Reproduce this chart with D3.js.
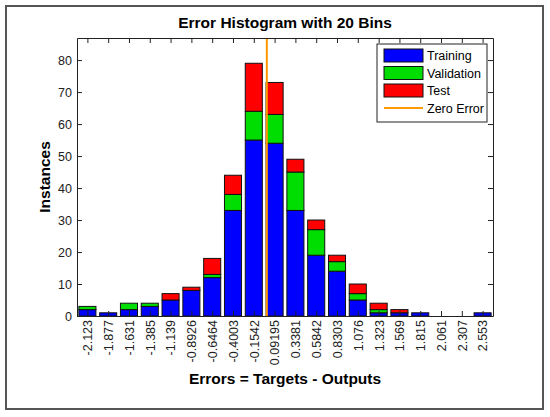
<!DOCTYPE html>
<html>
<head>
<meta charset="utf-8">
<script src="https://cdn.jsdelivr.net/npm/d3@7"></script>
<style>
body { margin: 0; background: #fff; }
text { font-family: "Liberation Sans", Arial, sans-serif; }
</style>
</head>
<body>
<div id="chart-area"></div>
<script>
// bin centres as printed under the axis
var binLabels = ["-2.123","-1.877","-1.631","-1.385","-1.139","-0.8926","-0.6464","-0.4003","-0.1542","0.09195",
                 "0.3381","0.5842","0.8303","1.076","1.323","1.569","1.815","2.061","2.307","2.553"];
var training   = [2,1,2,3,5,8,12,33,55,54,33,19,14,5,1,1,1,0,0,1];
var validation = [1,0,2,1,0,0,1,5,9,9,12,8,3,2,1,0,0,0,0,0];
var test       = [0,0,0,0,2,1,5,6,15,10,4,3,2,3,2,1,0,0,0,0];
var seriesNames = ["Training","Validation","Test"];
var seriesColors = ["#0000ff","#00dd00","#ff0000"];
var yTicks = [0,10,20,30,40,50,60,70,80];

var width = 550, height = 417;
var plotL = 77, plotR = 493, plotT = 38, plotB = 316;

var svg = d3.select("#chart-area").append("svg")
    .attr("width", width)
    .attr("height", height);

// figure frame
svg.append("rect")
    .attr("x", 6).attr("y", 6)
    .attr("width", 537).attr("height", 403)
    .attr("fill", "#fff")
    .attr("stroke", "#555")
    .attr("stroke-width", 2);

var centers = binLabels.map(function(d) { return +d; });
var step = (centers[centers.length - 1] - centers[0]) / (centers.length - 1);

var x = d3.scaleLinear()
    .domain([centers[0] - step / 2, centers[centers.length - 1] + step / 2])
    .range([plotL, plotR]);

var y = d3.scaleLinear()
    .domain([0, 86.9])
    .range([plotB, plotT]);

var data = binLabels.map(function(d, i) {
    return { c: centers[i], Training: training[i], Validation: validation[i], Test: test[i] };
});
var stacked = d3.stack().keys(seriesNames)(data);

var barW = (x(step) - x(0)) * 0.82;

var layers = svg.selectAll("g.layer")
    .data(stacked)
    .enter().append("g")
    .attr("class", "layer")
    .attr("fill", function(d, i) { return seriesColors[i]; });

layers.selectAll("rect")
    .data(function(d) { return d; })
    .enter().append("rect")
    .attr("x", function(d) { return x(d.data.c) - barW / 2; })
    .attr("y", function(d) { return y(d[1]); })
    .attr("width", barW)
    .attr("height", function(d) { return y(d[0]) - y(d[1]); })
    .attr("stroke", "#111")
    .attr("stroke-width", 1)
    .attr("display", function(d) { return d[1] > d[0] ? null : "none"; });

// zero error line
svg.append("line")
    .attr("x1", x(0)).attr("x2", x(0))
    .attr("y1", plotT).attr("y2", plotB)
    .attr("stroke", "#ff9900")
    .attr("stroke-width", 2);

// axes, ticks pointing inward like matlab
var xBottom = d3.axisBottom(x).tickValues(centers).tickSizeInner(-5).tickSizeOuter(0)
    .tickFormat(function(d, i) { return binLabels[i]; });
var xTop = d3.axisTop(x).tickValues(centers).tickSizeInner(-5).tickSizeOuter(0).tickFormat("");
var yLeft = d3.axisLeft(y).tickValues(yTicks).tickSizeInner(-5).tickSizeOuter(0);
var yRight = d3.axisRight(y).tickValues(yTicks).tickSizeInner(-5).tickSizeOuter(0).tickFormat("");

var gx = svg.append("g").attr("transform", "translate(0," + plotB + ")").call(xBottom);
gx.selectAll("text")
    .attr("transform", "rotate(-90)")
    .attr("x", -4).attr("y", 0).attr("dy", "0.35em")
    .style("text-anchor", "end");
svg.append("g").attr("transform", "translate(0," + plotT + ")").call(xTop);
var gy = svg.append("g").attr("transform", "translate(" + plotL + ",0)").call(yLeft);
gy.selectAll("text").attr("x", -5);
svg.append("g").attr("transform", "translate(" + plotR + ",0)").call(yRight);

svg.selectAll(".domain").attr("stroke", "#222");
svg.selectAll(".tick line").attr("stroke", "#222");
svg.selectAll(".tick text").attr("font-size", 12.5).attr("fill", "#222")
    .style("font-family", "'Liberation Sans', Arial, sans-serif");

// titles
svg.append("text")
    .attr("x", (plotL + plotR) / 2).attr("y", 28)
    .attr("text-anchor", "middle")
    .attr("font-size", 15.5).attr("font-weight", "bold")
    .text("Error Histogram with 20 Bins");

svg.append("text")
    .attr("x", (plotL + plotR) / 2).attr("y", 384)
    .attr("text-anchor", "middle")
    .attr("font-size", 15.5).attr("font-weight", "bold")
    .text("Errors = Targets - Outputs");

svg.append("text")
    .attr("transform", "translate(50," + ((plotT + plotB) / 2) + ") rotate(-90)")
    .attr("text-anchor", "middle")
    .attr("font-size", 15.5).attr("font-weight", "bold")
    .text("Instances");

// legend
var legend = svg.append("g").attr("transform", "translate(377,44)");
legend.append("rect")
    .attr("width", 110).attr("height", 78)
    .attr("fill", "#fff").attr("stroke", "#222");

seriesNames.forEach(function(name, i) {
    legend.append("rect")
        .attr("x", 7).attr("y", 5 + i * 17.5)
        .attr("width", 39).attr("height", 13)
        .attr("fill", seriesColors[i]).attr("stroke", "#111");
    legend.append("text")
        .attr("x", 50).attr("y", 16 + i * 17.5)
        .attr("font-size", 12.5)
        .text(name);
});
legend.append("line")
    .attr("x1", 7).attr("x2", 46)
    .attr("y1", 64).attr("y2", 64)
    .attr("stroke", "#ff9900").attr("stroke-width", 2);
legend.append("text")
    .attr("x", 50).attr("y", 69)
    .attr("font-size", 12.5)
    .text("Zero Error");
</script>
</body>
</html>
